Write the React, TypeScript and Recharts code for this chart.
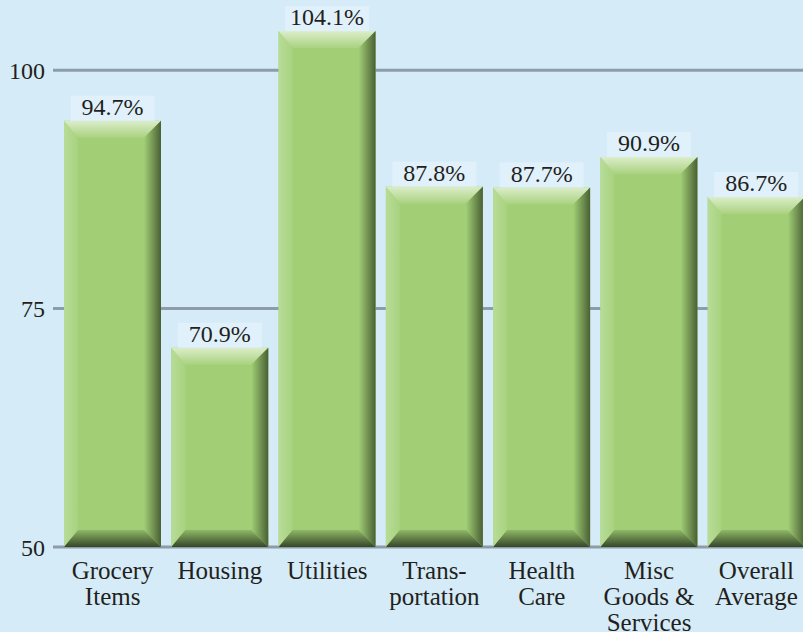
import { BarChart, Bar, XAxis, YAxis, CartesianGrid, LabelList } from "recharts"

const categories = [
  "Grocery\nItems",
  "Housing",
  "Utilities",
  "Trans-\nportation",
  "Health\nCare",
  "Misc\nGoods &\nServices",
  "Overall\nAverage",
]
const costIndex = [94.7, 70.9, 104.1, 87.8, 87.7, 90.9, 86.7]
const yTicks = [50, 75, 100]

const data = categories.map((name, i) => ({ name, value: costIndex[i] }))

const FONT = "'Liberation Serif', 'DejaVu Serif', serif"
const TEXT = "#231f20"

function BevelBar(props: any) {
  const { x, y, width: w, height: h } = props
  if (!h || h <= 0) return null
  const b = 17
  const l = 14
  return (
    <g>
      <rect x={x} y={y} width={w} height={h} fill="#a2cf76" />
      <polygon
        points={`${x},${y} ${x + l},${y + b} ${x + l},${y + h - b} ${x},${y + h}`}
        fill="url(#leftG)"
      />
      <polygon
        points={`${x},${y} ${x + w},${y} ${x + w - b},${y + b} ${x + l},${y + b}`}
        fill="url(#topG)"
      />
      <polygon
        points={`${x + w},${y} ${x + w},${y + h} ${x + w - b},${y + h - b} ${x + w - b},${y + b}`}
        fill="url(#rightG)"
      />
      <polygon
        points={`${x},${y + h} ${x + w},${y + h} ${x + w - b},${y + h - b} ${x + l},${y + h - b}`}
        fill="url(#bottomG)"
      />
    </g>
  )
}

function ValueLabel(props: any) {
  const { x, y, width, value } = props
  const cx = x + width / 2
  return (
    <g>
      <rect x={cx - 42} y={y - 25} width={84} height={25} fill="#e0f1fb" />
      <text
        x={cx}
        y={y - 6}
        textAnchor="middle"
        fontFamily={FONT}
        fontSize={24}
        fill={TEXT}
      >
        {`${value.toFixed(1)}%`}
      </text>
    </g>
  )
}

function CategoryTick(props: any) {
  const { x, y, payload } = props
  const lines = String(payload.value).split("\n")
  return (
    <text x={x} y={y} textAnchor="middle" fontFamily={FONT} fontSize={25} fill={TEXT}>
      {lines.map((line, i) => (
        <tspan key={i} x={x} y={y + 24 + i * 26}>
          {line}
        </tspan>
      ))}
    </text>
  )
}

export default function App() {
  return (
    <div
      style={{
        position: "absolute",
        left: 0,
        top: 0,
        width: 803,
        height: 632,
        overflow: "hidden",
        background: "#d5ebf7",
      }}
    >
      <BarChart
        width={810}
        height={632}
        data={data}
        margin={{ top: 13, right: 0, bottom: 0, left: 0 }}
        barCategoryGap={5}
      >
        <defs>
          <linearGradient id="leftG" x1="0" y1="0" x2="1" y2="0">
            <stop offset="0%" stopColor="#b8dc98" />
            <stop offset="100%" stopColor="#a8d27e" />
          </linearGradient>
          <linearGradient id="topG" x1="0" y1="0" x2="0" y2="1">
            <stop offset="0%" stopColor="#dcedca" />
            <stop offset="100%" stopColor="#a9d27f" />
          </linearGradient>
          <linearGradient id="rightG" x1="0" y1="0" x2="1" y2="0">
            <stop offset="0%" stopColor="#a2cf76" />
            <stop offset="100%" stopColor="#4a6034" />
          </linearGradient>
          <linearGradient id="bottomG" x1="0" y1="0" x2="0" y2="1">
            <stop offset="0%" stopColor="#8fb866" />
            <stop offset="100%" stopColor="#36462a" />
          </linearGradient>
        </defs>
        <CartesianGrid vertical={false} syncWithTicks stroke="#8c9ca8" strokeWidth={3} />
        <XAxis
          dataKey="name"
          axisLine={false}
          tickLine={false}
          height={85}
          interval={0}
          padding={{ left: 6, right: 0 }}
          tick={<CategoryTick />}
        />
        <YAxis
          domain={[50, 106]}
          ticks={yTicks}
          width={53}
          axisLine={false}
          tickLine={false}
          allowDataOverflow
          tick={{ fontFamily: FONT, fontSize: 24, fill: TEXT }}
        />
        <Bar dataKey="value" shape={<BevelBar />} isAnimationActive={false}>
          <LabelList dataKey="value" content={<ValueLabel />} />
        </Bar>
      </BarChart>
    </div>
  )
}
